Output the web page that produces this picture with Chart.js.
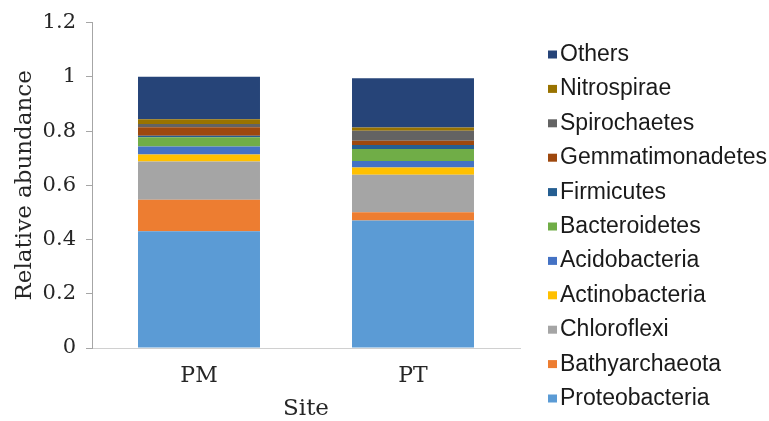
<!DOCTYPE html>
<html>
<head>
<meta charset="utf-8">
<script src="https://cdn.jsdelivr.net/npm/chart.js@4/dist/chart.umd.min.js"></script>
<style>
  html, body { margin: 0; padding: 0; background: #ffffff; }
  #wrap { width: 769px; height: 421px; }
</style>
</head>
<body>
<div id="wrap"><canvas id="c" width="769" height="421"></canvas></div>
<script>
// Sampling sites (x categories)
const sites = ['PM', 'PT'];

// Relative abundance of each phylum per site
const proteobacteria   = [0.431, 0.470];
const bathyarchaeota   = [0.116, 0.031];
const chloroflexi      = [0.141, 0.138];
const actinobacteria   = [0.026, 0.027];
const acidobacteria    = [0.029, 0.024];
const bacteroidetes    = [0.034, 0.044];
const firmicutes       = [0.006, 0.015];
const gemmatimonadetes = [0.031, 0.015];
const spirochaetes     = [0.012, 0.037];
const nitrospirae      = [0.018, 0.012];
const others           = [0.156, 0.182];

// Y axis tick labels
const yTickLabels = ['0', '0.2', '0.4', '0.6', '0.8', '1', '1.2'];

// Series, stacked from the bottom up
const series = [
  { label: 'Proteobacteria',   data: proteobacteria,   color: '#5B9BD5' },
  { label: 'Bathyarchaeota',   data: bathyarchaeota,   color: '#ED7D31' },
  { label: 'Chloroflexi',      data: chloroflexi,      color: '#A5A5A5' },
  { label: 'Actinobacteria',   data: actinobacteria,   color: '#FFC000' },
  { label: 'Acidobacteria',    data: acidobacteria,    color: '#4472C4' },
  { label: 'Bacteroidetes',    data: bacteroidetes,    color: '#70AD47' },
  { label: 'Firmicutes',       data: firmicutes,       color: '#255E91' },
  { label: 'Gemmatimonadetes', data: gemmatimonadetes, color: '#9E480E' },
  { label: 'Spirochaetes',     data: spirochaetes,     color: '#636363' },
  { label: 'Nitrospirae',      data: nitrospirae,      color: '#997300' },
  { label: 'Others',           data: others,           color: '#264478' }
];

const serif = '"DejaVu Serif", serif';
const textColor = '#262626';

// Legend on the right: top-most stack segment listed first
const sideLegend = {
  id: 'sideLegend',
  afterDraw(chart) {
    const ctx = chart.ctx;
    const ds = chart.data.datasets;
    const x0 = chart.chartArea.right + 28;
    const firstBaseline = 61;
    const step = 34.4;
    ctx.save();
    ctx.font = '23px "Liberation Sans", Arial, sans-serif';
    ctx.textBaseline = 'alphabetic';
    ctx.textAlign = 'left';
    for (let k = 0; k < ds.length; k++) {
      const d = ds[ds.length - 1 - k];
      const yb = firstBaseline + k * step;
      ctx.fillStyle = d.backgroundColor;
      ctx.fillRect(x0, yb - 10.5, 9, 8);
      ctx.fillStyle = '#1a1a1a';
      ctx.fillText(d.label, x0 + 12, yb);
    }
    ctx.restore();
  }
};

new Chart(document.getElementById('c'), {
  type: 'bar',
  data: {
    labels: sites,
    datasets: series.map(s => ({
      label: s.label,
      data: s.data,
      backgroundColor: s.color,
      borderWidth: 0,
      categoryPercentage: 1.0,
      barPercentage: 0.57
    }))
  },
  options: {
    responsive: false,
    animation: false,
    devicePixelRatio: 1,
    layout: { padding: { top: 20, right: 249, left: 0, bottom: 0 } },
    plugins: {
      legend: { display: false },
      tooltip: { enabled: false }
    },
    scales: {
      x: {
        stacked: true,
        grid: { display: true, drawOnChartArea: false, drawTicks: false },
        border: { display: true, color: '#D0D0D0', width: 1 },
        ticks: { padding: 15, color: textColor, font: { family: serif, size: 22 } },
        title: {
          display: true, text: 'Site', color: textColor,
          font: { family: serif, size: 23 },
          padding: { top: 4, bottom: -2 }
        },
        afterFit(scale) { scale.height = 73; }
      },
      y: {
        stacked: true,
        min: 0,
        max: 1.2,
        ticks: {
          stepSize: 0.2,
          padding: 10,
          color: textColor,
          font: { family: serif, size: 21 },
          callback: (v, i) => yTickLabels[i]
        },
        grid: { display: true, drawOnChartArea: false, drawTicks: true, tickLength: 6, color: '#A6A6A6' },
        border: { display: true, color: '#A6A6A6', width: 1 },
        title: {
          display: true, text: 'Relative abundance', color: textColor,
          font: { family: serif, size: 23 },
          padding: { top: 11, bottom: 4 }
        },
        afterFit(scale) { scale.width = 92; }
      }
    }
  },
  plugins: [sideLegend]
});
</script>
</body>
</html>
